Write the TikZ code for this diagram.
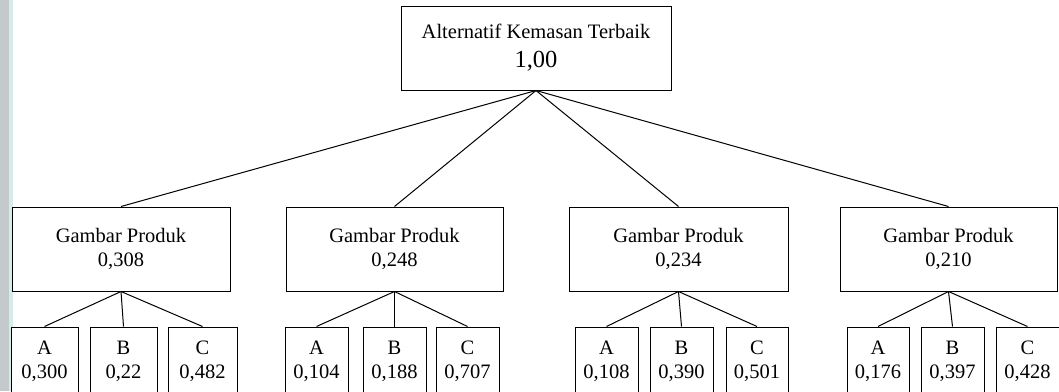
\documentclass[tikz,border=0pt]{standalone}
\usepackage{fontspec}
\setmainfont{Liberation Serif}
\begin{document}
\begin{tikzpicture}[x=1pt,y=-1pt,
  box/.style={draw=black,line width=1pt,fill=white,inner sep=0pt,align=center,
    font=\fontsize{20.5}{24}\selectfont},
  topbox/.style={box,minimum width=270pt,minimum height=84pt},
  midbox/.style={box,minimum height=84pt},
  leafbox/.style={box,minimum height=69pt},
  link/.style={line width=1pt}]
\useasboundingbox (0,0) rectangle (1059,391);
\fill[fill={rgb,255:red,196;green,201;blue,203}] (0,0) rectangle (9,391);
\fill[fill={rgb,255:red,214;green,236;blue,232}] (9,0) rectangle (13,391);
\begin{scope}
\clip (0,0) rectangle (1059,391);
% top
\node[topbox] (top) at (536,48) {Alternatif Kemasan Terbaik\\[5pt]{\fontsize{24.5}{28}\selectfont 1,00}};
% level 2
\node[midbox,minimum width=218pt] (g1) at (121,249) {Gambar Produk\\0,308};
\node[midbox,minimum width=217pt] (g2) at (394.5,249) {Gambar Produk\\0,248};
\node[midbox,minimum width=219pt] (g3) at (678.5,249) {Gambar Produk\\0,234};
\node[midbox,minimum width=217pt] (g4) at (948.5,249) {Gambar Produk\\0,210};
% leaves
\node[leafbox,minimum width=67pt] (a1) at (44.5,361.5) {A\\0,300};
\node[leafbox,minimum width=67pt] (b1) at (123.5,361.5) {B\\0,22};
\node[leafbox,minimum width=69pt] (c1) at (202.5,361.5) {C\\0,482};
\node[leafbox,minimum width=63pt] (a2) at (316.5,361.5) {A\\0,104};
\node[leafbox,minimum width=63pt] (b2) at (394.5,361.5) {B\\0,188};
\node[leafbox,minimum width=63pt] (c2) at (467.5,361.5) {C\\0,707};
\node[leafbox,minimum width=63pt] (a3) at (606.5,361.5) {A\\0,108};
\node[leafbox,minimum width=63pt] (b3) at (681.5,361.5) {B\\0,390};
\node[leafbox,minimum width=62pt] (c3) at (757,361.5) {C\\0,501};
\node[leafbox,minimum width=62pt] (a4) at (878,361.5) {A\\0,176};
\node[leafbox,minimum width=63pt] (b4) at (952.5,361.5) {B\\0,397};
\node[leafbox,minimum width=63pt] (c4) at (1027.5,361.5) {C\\0,428};
% connectors
\foreach \g in {g1,g2,g3,g4} \draw[link] (top.south) -- (\g.north);
\foreach \g/\n in {g1/1,g2/2,g3/3,g4/4} {
  \draw[link] (\g.south) -- (a\n.north);
  \draw[link] (\g.south) -- (b\n.north);
  \draw[link] (\g.south) -- (c\n.north);
}
\end{scope}
\end{tikzpicture}
\end{document}
